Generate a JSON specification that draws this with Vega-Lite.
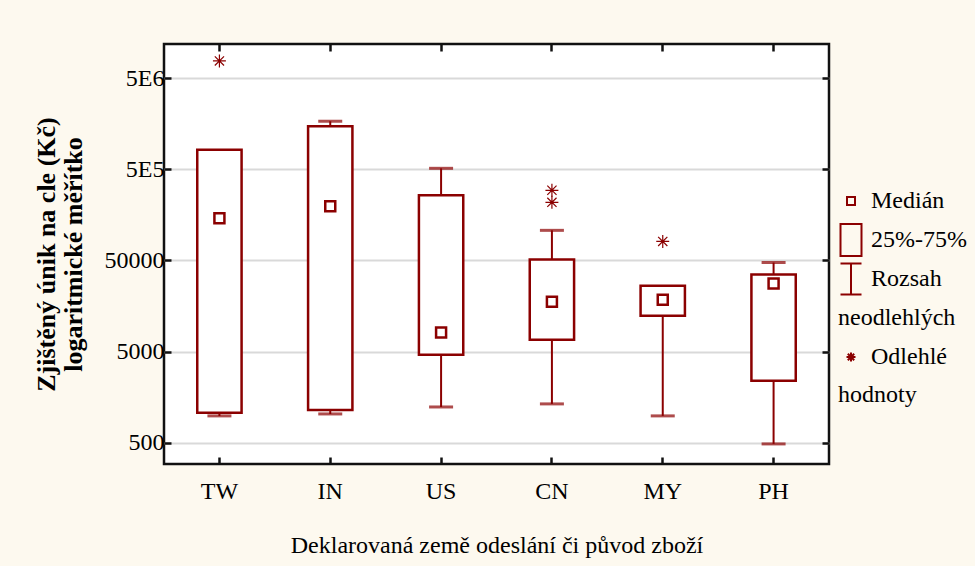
{
  "$schema": "https://vega.github.io/schema/vega-lite/v6.json",
  "width": 665,
  "height": 420,
  "autosize": {"type": "none"},
  "padding": {"left": 164, "top": 44, "right": 146, "bottom": 102},
  "background": "#FDF9EF",
  "config": {
    "view": {"stroke": "#111111", "strokeWidth": 2.5, "fill": "white"},
    "font": "Liberation Serif",
    "axis": {"labelFont": "Liberation Serif", "titleFont": "Liberation Serif", "labelColor": "black", "titleColor": "black"},
    "legend": {"labelFont": "Liberation Serif", "labelColor": "black"}
  },
  "datasets": {
    "box": [
      {"cat": "TW", "lo": 990, "q1": 1070, "q3": 820000, "hi": 820000},
      {"cat": "IN", "lo": 1040, "q1": 1150, "q3": 1480000, "hi": 1680000},
      {"cat": "US", "lo": 1240, "q1": 4640, "q3": 259000, "hi": 512000},
      {"cat": "CN", "lo": 1340, "q1": 6780, "q3": 51300, "hi": 107000},
      {"cat": "MY", "lo": 990, "q1": 12400, "q3": 26500, "hi": 26500},
      {"cat": "PH", "lo": 488, "q1": 2400, "q3": 35100, "hi": 47500}
    ],
    "pts": [
      {"cat": "TW", "value": 145000, "kind": "Medián"},
      {"cat": "IN", "value": 196000, "kind": "Medián"},
      {"cat": "US", "value": 8100, "kind": "Medián"},
      {"cat": "CN", "value": 17700, "kind": "Medián"},
      {"cat": "MY", "value": 18600, "kind": "Medián"},
      {"cat": "PH", "value": 27900, "kind": "Medián"},
      {"cat": "TW", "value": 7700000, "kind": "Odlehlé"},
      {"cat": "CN", "value": 294000, "kind": "Odlehlé"},
      {"cat": "CN", "value": 217000, "kind": "Odlehlé"},
      {"cat": "MY", "value": 80900, "kind": "Odlehlé"}
    ]
  },
  "layer": [
    {
      "data": {"name": "box"},
      "mark": {"type": "rule", "color": "#8B0000", "strokeWidth": 2},
      "encoding": {
        "x": {
          "field": "cat", "type": "nominal", "sort": null,
          "scale": {"paddingInner": 0, "paddingOuter": 0},
          "axis": {
            "orient": "bottom", "labelAngle": 0, "tickSize": -7, "tickWidth": 2.5, "tickColor": "#111111",
            "domain": false, "grid": false, "labelFont": "Liberation Serif", "labelFontSize": 24, "labelPadding": 22,
            "title": "Deklarovaná země odeslání či původ zboží", "titleFont": "Liberation Serif",
            "titleFontSize": 24, "titleFontWeight": "normal", "titlePadding": 30
          }
        },
        "y": {
          "field": "lo", "type": "quantitative",
          "scale": {"type": "log", "domain": [294, 11800000], "nice": false},
          "axis": {
            "orient": "left", "values": [500, 5000, 50000, 500000, 5000000],
            "labelExpr": "datum.value == 500000 ? '5E5' : datum.value == 5000000 ? '5E6' : format(datum.value, 'd')",
            "grid": true, "gridColor": "#D9D9D9", "gridWidth": 2,
            "tickSize": -7, "tickWidth": 2.5, "tickColor": "#111111", "domain": false,
            "labelFont": "Liberation Serif", "labelFontSize": 24, "labelPadding": 7,
            "title": ["Zjištěný únik na cle (Kč)", "logaritmické měřítko"], "titleFont": "Liberation Serif",
            "titleFontSize": 26, "titleFontWeight": "bold", "titleLineHeight": 27, "titlePadding": 18
          }
        },
        "y2": {"field": "hi"}
      }
    },
    {
      "data": {"name": "box"},
      "mark": {"type": "bar", "fill": "white", "stroke": "#8B0000", "strokeWidth": 2.5, "width": {"band": 0.4}},
      "encoding": {
        "x": {
          "field": "cat", "type": "nominal", "sort": null,
          "axis": {"orient": "top", "labels": false, "title": null, "tickSize": -7, "tickWidth": 2.5, "tickColor": "#111111", "domain": false, "grid": false}
        },
        "y": {
          "field": "q1", "type": "quantitative",
          "axis": {"orient": "right", "labels": false, "title": null, "values": [500, 5000, 50000, 500000, 5000000], "tickSize": -7, "tickWidth": 2.5, "tickColor": "#111111", "domain": false, "grid": false}
        },
        "y2": {"field": "q3"}
      }
    },
    {
      "data": {"name": "box"},
      "transform": [{"filter": "datum.hi > datum.q3"}],
      "mark": {"type": "tick", "color": "#8B0000", "thickness": 3, "size": 24},
      "encoding": {
        "x": {"field": "cat", "type": "nominal", "sort": null, "axis": null},
        "y": {"field": "hi", "type": "quantitative", "axis": null}
      }
    },
    {
      "data": {"name": "box"},
      "mark": {"type": "tick", "color": "#8B0000", "thickness": 3, "size": 24},
      "encoding": {
        "x": {"field": "cat", "type": "nominal", "sort": null, "axis": null},
        "y": {"field": "lo", "type": "quantitative", "axis": null},
        "strokeDash": {
          "datum": "neodlehlých", "type": "nominal",
          "scale": {"domain": ["neodlehlých", "hodnoty"], "range": [[1, 0], [1, 0]]},
          "legend": {
            "orient": "none", "legendX": 650, "legendY": 262, "title": null,
            "symbolSize": 100, "symbolOpacity": 0, "symbolStrokeColor": "transparent", "symbolFillColor": "transparent",
            "labelFont": "Liberation Serif", "labelFontSize": 24, "labelOffset": 0, "labelLimit": 300,
            "rowPadding": 53, "padding": 0
          }
        }
      }
    },
    {
      "data": {"name": "pts"},
      "mark": {"type": "point", "filled": false, "color": "#8B0000", "opacity": 1},
      "encoding": {
        "x": {"field": "cat", "type": "nominal", "sort": null, "axis": null},
        "y": {"field": "value", "type": "quantitative", "axis": null},
        "size": {"condition": {"test": "datum.kind == 'Medián'", "value": 625}, "value": 830},
        "strokeWidth": {"condition": {"test": "datum.kind == 'Medián'", "value": 2.5}, "value": 1.2},
        "shape": {
          "field": "kind", "type": "nominal",
          "scale": {
            "domain": ["Medián", "25%-75%", "Rozsah", " ", "Odlehlé", "  "],
            "range": [
              "M-0.4,-0.4H0.4V0.4H-0.4Z",
              "M-1.05,-1.6H1.05V1.6H-1.05Z",
              "M-1.05,-1.55H1.05M0,-1.55V1.55M-1.05,1.55H1.05",
              "M0,0",
              "M-0.45,0H0.45M0,-0.45V0.45M-0.32,-0.32L0.32,0.32M-0.32,0.32L0.32,-0.32",
              "M0,0"
            ]
          },
          "legend": {
            "orient": "none", "legendX": 675, "legendY": 145, "title": null,
            "symbolSize": 400, "symbolStrokeWidth": 2, "symbolStrokeColor": "#8B0000", "symbolFillColor": "transparent",
            "labelFont": "Liberation Serif", "labelFontSize": 24, "labelOffset": 8, "labelLimit": 300,
            "rowPadding": -1, "padding": 0, "gridAlign": "all"
          }
        }
      }
    }
  ],
  "resolve": {"axis": {"x": "independent", "y": "independent"}}
}
